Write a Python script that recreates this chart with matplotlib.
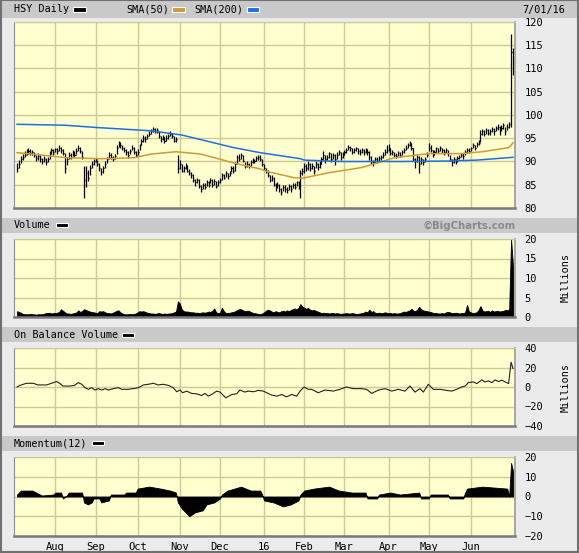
import numpy as np
import matplotlib
matplotlib.use("Agg")
import matplotlib.pyplot as plt
from matplotlib.patches import Rectangle

# daily bars, 6 Jul 2015 .. 1 Jul 2016 (one value per trading day)
closes = [
    88.5, 89.5, 90.5, 91.0, 91.5, 92.0, 92.3, 91.8, 92.0, 91.3, 90.8, 91.2, 90.5, 90.0, 90.6, 89.8, 90.5, 91.8, 92.4, 92.0,
    92.6, 92.2, 93.0, 92.5, 91.8, 88.5, 90.5, 91.5, 91.0, 92.0, 91.5, 92.3, 93.0, 92.2, 91.0, 86.0, 87.5, 86.5, 88.5, 89.5, 90.0,
    90.5, 89.5, 88.5, 87.8, 88.5, 89.5, 90.5, 91.5, 91.0, 90.5, 91.2, 93.0, 94.0, 93.5, 93.0, 92.5, 92.0, 91.5, 92.3, 93.0, 92.0, 91.5,
    92.0, 93.5, 94.5, 95.0, 94.8, 95.5, 96.0, 96.5, 97.0, 96.5, 96.8, 95.5, 94.8, 95.3, 94.5, 95.0, 95.5, 96.0, 95.5, 94.5, 94.8, 88.5,
    89.5, 88.0, 88.5, 89.0, 88.0, 87.5, 87.0, 86.0, 85.5, 86.0, 84.8, 84.0, 85.0, 84.5, 85.5, 85.0, 86.0, 85.0, 85.8, 84.8, 85.5,
    86.0, 87.0, 86.5, 87.5, 86.8, 87.5, 88.5, 88.0, 89.5, 91.0, 90.5, 91.5, 90.0, 89.0, 89.5, 89.0, 89.8, 90.3, 90.0, 90.8, 91.0, 90.5, 89.5,
    88.5, 88.0, 87.0, 86.0, 86.5, 85.0, 84.5, 85.0, 84.0, 83.5, 84.5, 84.0, 83.8, 84.8, 84.0, 85.0, 84.5, 85.5, 84.5, 87.5, 88.0,
    89.0, 88.5, 89.5, 88.5, 89.0, 88.0, 89.5, 88.8, 89.5, 90.5, 91.5, 90.5, 91.0, 91.8, 90.5, 91.5, 90.5, 91.5, 92.0, 91.0, 91.5,
    92.0, 92.5, 93.2, 92.8, 92.0, 92.5, 92.8, 92.3, 92.0, 92.5, 92.0, 92.6, 92.0, 91.0, 90.0, 89.8, 90.5, 90.2, 90.8, 91.0, 91.5, 92.0, 92.5,
    92.8, 91.8, 92.0, 91.5, 91.2, 91.8, 91.5, 92.0, 92.5, 93.0, 93.5, 94.0, 93.0, 90.5, 90.0, 91.0, 89.5, 90.5, 89.8, 90.5, 91.5,
    93.0, 92.5, 91.5, 92.0, 92.8, 92.3, 92.8, 92.5, 92.0, 92.5, 91.8, 90.5, 89.8, 90.5, 90.0, 90.8, 91.0, 91.5, 91.2, 92.0, 92.5, 92.3,
    92.8, 93.5, 93.0, 93.8, 94.0, 96.0, 96.5, 96.0, 96.8, 96.2, 96.5, 97.0, 96.5, 97.2, 97.5, 96.8, 97.3, 97.8, 96.5, 97.5, 98.0, 113.5, 111.5,
]
highs = [
    89.6, 90.3, 91.2, 91.6, 92.2, 92.6, 92.9, 92.6, 92.5, 92.1, 91.5, 91.8, 91.3, 90.8, 91.2, 90.7, 91.0, 92.3, 92.9, 92.7,
    93.0, 93.0, 93.5, 93.2, 92.6, 91.9, 91.0, 92.0, 91.8, 92.5, 92.3, 92.8, 93.5, 93.2, 92.3, 89.0, 89.0, 88.2, 89.2, 90.2, 90.6,
    90.8, 90.4, 89.7, 88.6, 89.0, 90.0, 91.0, 92.0, 91.8, 91.2, 91.7, 93.5, 94.5, 94.2, 93.6, 93.2, 92.6, 92.2, 92.7, 93.5, 93.1, 92.2,
    92.6, 93.8, 94.9, 95.6, 95.4, 95.9, 96.5, 97.0, 97.5, 97.3, 97.3, 96.6, 95.5, 95.8, 95.2, 95.6, 96.0, 96.5, 96.2, 95.4, 95.2, 91.3,
    90.3, 89.4, 89.0, 89.6, 89.2, 88.4, 87.8, 87.4, 86.3, 86.4, 86.2, 85.0, 85.4, 85.3, 86.0, 85.8, 86.4, 86.2, 86.3, 85.7, 86.0,
    86.5, 87.5, 87.3, 88.0, 87.6, 88.0, 89.0, 89.0, 89.9, 91.5, 91.7, 91.8, 91.4, 89.8, 90.0, 89.7, 90.3, 90.8, 90.6, 91.2, 91.4, 91.3, 90.6,
    89.5, 88.7, 88.2, 87.2, 87.0, 86.7, 85.3, 85.5, 85.2, 84.2, 84.9, 84.9, 84.5, 85.2, 84.9, 85.4, 85.3, 85.8, 85.7, 88.2, 88.6,
    89.6, 89.4, 90.0, 89.6, 89.6, 89.1, 90.0, 89.7, 90.0, 91.0, 92.3, 91.5, 91.4, 92.1, 91.8, 91.9, 91.6, 92.0, 92.4, 92.0, 92.0,
    92.5, 93.0, 93.5, 93.3, 92.8, 92.9, 93.2, 92.9, 92.6, 93.0, 92.6, 93.0, 92.7, 92.2, 91.1, 90.4, 90.9, 91.0, 91.2, 91.5, 92.0, 92.6, 93.6,
    93.8, 92.8, 92.4, 92.1, 91.8, 92.2, 92.0, 92.5, 92.9, 93.5, 93.9, 94.5, 94.0, 93.0, 90.8, 91.5, 91.2, 91.0, 90.5, 91.0, 92.0,
    94.0, 93.5, 92.4, 92.5, 93.1, 92.9, 93.3, 93.0, 92.6, 92.9, 92.4, 91.5, 90.6, 91.0, 90.6, 91.2, 91.5, 91.9, 91.8, 92.4, 92.9, 92.9,
    93.2, 93.9, 93.6, 94.2, 94.6, 96.7, 97.0, 96.8, 97.3, 96.9, 97.0, 97.5, 97.2, 97.7, 98.0, 97.6, 97.8, 98.3, 97.4, 98.0, 98.4, 117.4, 114.5,
]
lows = [
    87.8, 88.6, 89.6, 90.3, 90.9, 91.3, 91.7, 91.3, 91.4, 90.9, 90.2, 90.4, 89.9, 89.5, 89.9, 89.3, 89.8, 90.6, 91.6, 91.5,
    92.0, 91.7, 92.3, 91.9, 91.4, 87.5, 89.3, 90.6, 90.5, 91.2, 91.0, 91.6, 92.3, 91.8, 90.5, 82.2, 84.5, 85.8, 87.0, 88.7, 89.2,
    89.8, 89.0, 87.9, 87.0, 87.5, 88.6, 89.7, 90.6, 90.6, 90.0, 90.5, 91.6, 93.2, 92.9, 92.5, 92.0, 91.3, 90.8, 91.6, 92.4, 91.6, 91.0,
    91.4, 92.4, 93.6, 94.3, 94.3, 94.8, 95.4, 95.9, 96.4, 96.2, 96.2, 95.0, 94.3, 94.6, 94.0, 94.4, 94.8, 95.4, 95.0, 94.2, 94.2, 87.5,
    88.3, 87.7, 87.8, 88.3, 87.7, 87.0, 86.4, 85.5, 84.7, 85.3, 84.3, 83.5, 84.0, 84.0, 84.7, 84.5, 85.3, 84.6, 85.0, 84.2, 84.8,
    85.4, 86.0, 86.2, 86.7, 86.3, 86.8, 87.7, 87.6, 88.0, 89.5, 90.0, 90.5, 89.8, 88.6, 88.9, 88.6, 89.0, 89.6, 89.6, 90.0, 90.4, 90.2, 89.1,
    88.1, 87.6, 86.6, 85.5, 85.7, 84.7, 83.7, 84.2, 83.4, 82.8, 83.6, 83.4, 83.2, 83.9, 83.5, 84.3, 84.0, 84.8, 84.0, 82.2, 87.0,
    87.6, 87.9, 88.2, 87.9, 88.3, 87.4, 88.6, 88.2, 88.7, 89.4, 90.6, 89.7, 90.3, 90.8, 89.8, 90.6, 89.3, 90.5, 91.4, 90.3, 90.8,
    91.4, 91.8, 92.4, 92.2, 91.6, 91.9, 92.2, 91.7, 91.4, 91.8, 91.3, 91.9, 91.5, 90.4, 89.5, 89.0, 89.6, 89.6, 90.0, 90.3, 90.8, 91.3, 91.8,
    92.2, 91.4, 91.4, 91.0, 90.7, 91.2, 91.0, 91.5, 91.9, 92.4, 93.0, 93.4, 92.5, 90.0, 88.7, 89.8, 87.6, 89.5, 89.2, 89.8, 90.9,
    92.3, 92.0, 91.0, 91.3, 92.1, 91.9, 92.2, 91.9, 91.5, 91.9, 91.2, 90.1, 89.0, 89.6, 89.4, 89.8, 90.5, 90.9, 90.6, 91.3, 91.9, 91.8,
    92.2, 92.9, 92.5, 93.2, 93.5, 94.2, 95.7, 95.4, 96.0, 95.6, 95.8, 96.3, 95.8, 96.5, 96.8, 95.6, 96.6, 97.0, 95.8, 96.8, 97.3, 97.5, 108.5,
]
# volume, millions
volume = [
    1.5, 1.3, 1.1, 0.8, 0.7, 0.7, 0.7, 0.8, 0.7, 0.7, 0.6, 0.7, 0.7, 0.7, 0.8, 1.0, 1.0, 1.1, 0.9, 1.0,
    1.0, 1.1, 1.3, 2.0, 1.6, 1.2, 0.9, 0.9, 0.8, 0.9, 1.0, 1.2, 1.7, 1.3, 1.5, 2.0, 1.8, 1.6, 1.4, 1.3, 1.2,
    1.1, 1.0, 1.5, 1.4, 1.5, 1.2, 1.0, 1.0, 0.9, 1.1, 1.3, 1.6, 1.7, 1.2, 0.9, 0.7, 0.7, 0.7, 0.8, 0.7, 0.8, 0.9,
    1.2, 1.5, 1.4, 1.5, 1.3, 1.1, 1.0, 0.9, 0.9, 0.8, 0.9, 1.0, 0.9, 0.8, 0.9, 0.8, 0.9, 0.9, 1.0, 1.2, 1.4, 4.0,
    3.5, 2.0, 1.5, 1.4, 1.4, 1.3, 1.2, 1.2, 1.1, 1.1, 1.0, 1.1, 1.2, 1.1, 1.2, 1.4, 1.3, 1.6, 2.2, 1.2, 1.0,
    1.1, 2.4, 1.5, 1.0, 1.0, 1.1, 1.2, 1.3, 1.5, 1.8, 2.0, 2.0, 1.7, 1.5, 1.6, 1.6, 1.3, 1.1, 1.0, 0.9, 0.8, 0.7, 0.9,
    1.2, 1.6, 1.9, 1.7, 1.4, 1.2, 1.5, 1.3, 1.2, 1.5, 1.6, 1.4, 1.7, 1.5, 1.8, 2.0, 2.2, 1.9, 2.4, 3.3, 2.6,
    2.4, 2.1, 2.3, 1.9, 1.7, 1.8, 1.6, 1.4, 1.2, 1.0, 1.1, 1.0, 1.0, 0.9, 1.0, 1.0, 0.9, 1.0, 0.9, 0.8, 0.9,
    0.9, 1.0, 0.9, 0.9, 1.0, 0.9, 0.8, 0.8, 0.9, 1.0, 1.1, 1.4, 1.2, 1.9, 1.3, 1.5, 1.1, 1.0, 1.1, 1.0, 1.0, 1.2, 1.1,
    1.0, 1.0, 0.9, 1.0, 0.9, 0.9, 1.0, 1.2, 1.4, 1.3, 1.5, 1.7, 2.1, 1.6, 1.5, 1.9, 2.6, 2.0, 1.7, 1.6, 1.5,
    1.4, 1.3, 1.1, 1.0, 1.0, 0.9, 0.9, 1.0, 0.9, 1.2, 1.3, 1.2, 1.0, 1.0, 1.1, 1.0, 0.9, 1.0, 1.0, 1.2, 3.1, 1.4,
    1.2, 1.0, 1.1, 1.2, 1.8, 2.8, 1.7, 1.4, 1.5, 1.6, 1.3, 1.7, 1.4, 1.5, 1.6, 1.4, 1.5, 1.6, 1.8, 1.7, 2.0, 20.0, 13.0,
]

# moving averages (day index, value)
sma50_days = [0, 8, 26, 44, 61, 70, 83, 96, 113, 127, 131, 145, 149, 163, 180, 197, 215, 232, 243, 257, 259]
sma50_vals = [91.9, 91.6, 90.8, 90.6, 90.8, 91.6, 92.1, 91.6, 89.7, 88.4, 87.8, 86.5, 86.4, 87.6, 88.7, 90.8, 91.7, 91.7, 92.1, 93.0, 94.0]
sma200_days = [0, 25, 42, 70, 86, 113, 127, 148, 150, 170, 200, 225, 240, 259]
sma200_vals = [98.0, 97.8, 97.3, 96.6, 95.7, 93.0, 91.9, 90.6, 90.3, 90.0, 90.0, 90.1, 90.3, 90.9]

# on balance volume, millions (day index, value)
obv_days = [0, 1.5, 5, 8.5, 11, 15.5, 19, 20.7, 22.5, 24, 27.7, 30, 32, 33.8, 35.5, 37.3, 39, 40.7, 42.5, 44.2,
            46, 47.7, 50.3, 53, 54.7, 58.1, 61.6, 63.4, 66, 68.6, 71.2, 73.8, 76.4, 79, 81.6, 83.4, 85.1, 86.5,
            88.6, 91.2, 93.8, 96.4, 98.2, 99.9, 101.6, 104.3, 106, 109.1, 112.1, 114.7, 116.4, 119, 120.8, 123.4,
            126, 128.6, 130.4, 133, 135.6, 138.2, 140.8, 143.4, 146.1, 147.8, 149.9, 152.1, 153.9, 157.3, 160.8,
            165.2, 168.6, 172.1, 175.6, 179.9, 182.6, 185.2, 188.7, 192.2, 195.7, 199.1, 202.6, 205.2, 207.8,
            210.4, 212.2, 214.8, 217.4, 220.9, 224.4, 227, 229.6, 232.2, 234, 235.7, 238.3, 240.1, 242.7, 244.4,
            246.2, 247.9, 249.7, 251.4, 253.2, 254.9, 256.7, 258, 259]
obv_vals = [0, 1.7, 3.8, 3.8, 2.1, 2.1, 4.5, 5.6, 3.5, 1, 1, 1.7, 4.5, 2.8, -0.7, -2.4, -0.7, -3.1, -1.7, -3.1,
            -1.7, -3.1, -1.7, -0.7, -2.4, -2.4, -1.4, -0.7, 2.1, 2.8, 3.8, 2.1, 2.8, 1.7, -0.7, -4.9, -3.1, -5.9,
            -4.2, -6.6, -7, -8.7, -6.6, -9.4, -7.7, -4.2, -5.2, -11.1, -7.7, -7, -3.1, -5.2, -4.2, -4.9,
            -3.5, -4.2, -5.9, -8.3, -9.4, -7.7, -10.1, -7.7, -9.4, -4.2, 0, -2.4, -2.4, -5.9, -3.1,
            -4.2, -2.4, 0, -1.7, -1.7, -2.4, -6.6, -3.1, -1.7, -4.2, -2.4, -4.2, 1, -5.2,
            -1.7, -5.2, 2.8, -2.4, -2.4, -3.5, -4.2, -2.4, 0, 1, 4.5, 5.2, 3.5, 7.3, 5.2,
            6.3, 4.5, 7.3, 5.6, 7, 5.2, 3.5, 25.4, 19]

# momentum(12) (day index, value)
mom_days = [0, 2, 8, 10, 13, 19, 20, 23, 24, 26, 27, 34, 35, 37, 39, 40, 43, 44, 48, 49, 56, 57, 62, 63, 69, 75,
            80, 83, 84, 86, 90, 93, 97, 99, 103, 106, 107, 110, 117, 122, 127, 128, 129, 134, 139, 143, 147,
            148, 150, 155, 163, 168, 175, 182, 183, 188, 189, 195, 200, 210, 211, 215, 216, 225, 226, 233,
            234, 235, 243, 256, 257, 258, 259]
mom_vals = [1, 3, 3, 2, 0.5, 1, 2, 2, -1, 0.5, 2, 2, -3, -4, -3, -1, -1, -3, -2, 1, 1, 2, 2, 4, 5, 4,
            3, 2, -3, -6, -10, -8, -7, -4, -3, -1, 1, 3, 5, 3, 3, 1, -2, -3, -5, -4, -2,
            1, 3, 4, 5, 3, 2, 2, -1, -1, 1, 2, 1, 2, -1, -1, 1, 1, -1, -1,
            2, 4, 5, 4, 0, 17, 13]

month_days = [20, 41, 63, 85, 106, 129, 150, 171, 194, 215, 237]
month_labels = ["Aug", "Sep", "Oct", "Nov", "Dec", "16", "Feb", "Mar", "Apr", "May", "Jun"]

W, H = 579, 553
MONO = "DejaVu Sans Mono"
BG = "#ebebeb"
PLOT_BG = "#ffffcf"
GRID = "#cbcb96"

fig = plt.figure(figsize=(W / 100, H / 100), dpi=100, facecolor=BG)


def box(x0, y0, x1, y1, **kw):
    # rectangle in pixel coords, y measured from the top
    fig.patches.append(Rectangle((x0 / W, 1 - y1 / H), (x1 - x0) / W, (y1 - y0) / H,
                                 transform=fig.transFigure, **kw))


def txt(x, y, s, **kw):
    fig.text(x / W, 1 - y / H, s, va="center", **kw)


def panel(top, bottom):
    ax = fig.add_axes([14 / W, 1 - bottom / H, (515 - 14) / W, (bottom - top) / H])
    ax.set_facecolor(PLOT_BG)
    ax.set_xlim(-1.57, 260.05)
    ax.set_xticks(month_days)
    ax.set_xticklabels([])
    ax.grid(True, color=GRID, lw=1.0)
    ax.set_axisbelow(True)
    ax.yaxis.tick_right()
    ax.tick_params(length=0, pad=7, labelsize=7.5, labelcolor="black")
    ax.spines["left"].set_color("#8c8c8c")
    ax.spines["bottom"].set_color("#7a7a7a")
    ax.spines["bottom"].set_linewidth(1.8)
    ax.spines["right"].set_color("#9a9a9a")
    ax.spines["right"].set_linewidth(1.2)
    ax.spines["top"].set_color("#c8c896")
    return ax


def mono_labels(ax):
    for lab in ax.get_yticklabels() + ax.get_xticklabels():
        lab.set_family(MONO)


# header bars
for y0, y1 in [(1, 18), (218, 233), (327, 342), (436, 451)]:
    box(2, y0, 577, y1, facecolor="#c9c9c9", edgecolor="none")
# outer frame
box(1, 0, 578, 552, facecolor="none", edgecolor="#707070", lw=1.5)

days = np.arange(len(closes))

# price
ax1 = panel(22, 208)
ax1.vlines(days, lows, highs, color="black", lw=0.9)
ax1.hlines(closes, days, days + 0.55, color="black", lw=0.9)
ax1.plot(sma50_days, sma50_vals, color="#d09a34", lw=1.1)
ax1.plot(sma200_days, sma200_vals, color="#1e6ee6", lw=1.1)
ax1.set_ylim(80, 120)
ax1.set_yticks(range(80, 121, 5))
mono_labels(ax1)

# volume
ax2 = panel(239, 317)
ax2.fill_between(days, 0, volume, color="black", lw=0.6)
ax2.set_ylim(0, 20)
ax2.set_yticks(range(0, 21, 5))
mono_labels(ax2)

# on balance volume
ax3 = panel(348, 426)
ax3.plot(obv_days, obv_vals, color="#222222", lw=0.8)
ax3.set_ylim(-40, 40)
ax3.set_yticks(range(-40, 41, 20))
mono_labels(ax3)

# momentum
ax4 = panel(457, 536)
ax4.fill_between(mom_days, 0, mom_vals, color="black", lw=0.6)
ax4.set_ylim(-20, 20)
ax4.set_yticks(range(-20, 21, 10))
ax4.set_xticklabels(month_labels)
ax4.tick_params(axis="x", pad=4)
mono_labels(ax4)

# header texts and legend swatches
txt(14, 9.5, "HSY Daily", family=MONO, fontsize=7.3)
box(73, 7, 86, 12, facecolor="black", edgecolor="white", lw=0.8)
txt(126, 9.5, "SMA(50)", family=MONO, fontsize=7.3)
box(172, 7, 185, 12, facecolor="#d09a34", edgecolor="white", lw=0.8)
txt(194, 9.5, "SMA(200)", family=MONO, fontsize=7.3)
box(247, 7, 259, 12, facecolor="#1e6ee6", edgecolor="white", lw=0.8)
txt(565, 9.5, "7/01/16", family=MONO, fontsize=7.3, ha="right")

txt(14, 225.5, "Volume", family=MONO, fontsize=7.3)
box(56, 223, 68, 227, facecolor="black", edgecolor="white", lw=0.8)
txt(516, 225.5, "\u00a9BigCharts.com", family="DejaVu Sans", fontsize=7.3,
    weight="bold", color="#8a8a8a", ha="right")

txt(14, 334.5, "On Balance Volume", family=MONO, fontsize=7.3)
box(122, 333, 134, 337, facecolor="black", edgecolor="white", lw=0.8)

txt(14, 443.5, "Momentum(12)", family=MONO, fontsize=7.3)
box(92, 441, 104, 445, facecolor="black", edgecolor="white", lw=0.8)

# Millions labels
txt(566, 278, "Millions", family=MONO, fontsize=7.3, rotation=90, ha="center")
txt(566, 387, "Millions", family=MONO, fontsize=7.3, rotation=90, ha="center")

fig.savefig("out.png", dpi=100, facecolor=BG)
